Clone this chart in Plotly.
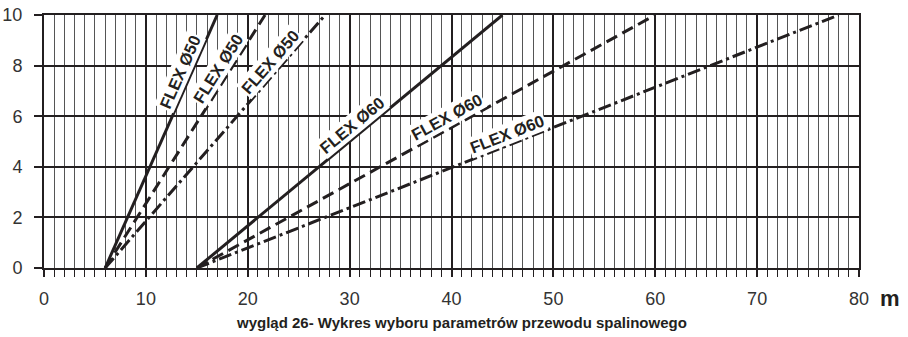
import math
import plotly.graph_objects as go

# Flue pipe selection chart: each line starts at zero height and rises to 10
pipe_labels = ["FLEX Ø50", "FLEX Ø50", "FLEX Ø50", "FLEX Ø60", "FLEX Ø60", "FLEX Ø60"]
x_at_zero = [6, 6, 6, 15, 15, 15]           # m where each line leaves the axis
x_at_ten = [17.0, 21.7, 27.6, 45.0, 60.0, 78.0]  # m where each line reaches 10
y_values = [0, 10]
label_y = [7.75, 7.9, 8.15, 5.65, 5.95, 5.3]  # height at which each label sits

x_ticks = [0, 10, 20, 30, 40, 50, 60, 70, 80]
y_ticks = [0, 2, 4, 6, 8, 10]

caption = "wygląd 26- Wykres wyboru parametrów przewodu spalinowego"
unit_label = "m"

INK = "#231f20"
FONT = "Liberation Sans, Arial"
W, H = 908, 337
M = dict(l=44, r=49, t=15, b=69)
X_RANGE = [0, 80]
Y_RANGE = [0, 10]

dash_styles = ["solid", "12px,6px", "13px,4px,3px,4px"] * 2

fig = go.Figure()
for i in range(len(pipe_labels)):
    fig.add_trace(go.Scatter(
        x=[x_at_zero[i], x_at_ten[i]], y=y_values,
        mode="lines",
        line=dict(color=INK, width=3, dash=dash_styles[i]),
        showlegend=False, hoverinfo="skip",
    ))

# pixel scale of the plotting area, used to align labels with their lines
px_x = (W - M["l"] - M["r"]) / (X_RANGE[1] - X_RANGE[0])
px_y = (H - M["t"] - M["b"]) / (Y_RANGE[1] - Y_RANGE[0])
gap = 11
for i, text in enumerate(pipe_labels):
    slope = (y_values[1] - y_values[0]) / (x_at_ten[i] - x_at_zero[i])
    ang = math.atan2(slope * px_y, px_x)
    ly = label_y[i]
    lx = x_at_zero[i] + ly / slope
    fig.add_annotation(
        x=lx, y=ly, xref="x", yref="y",
        text=f"<b>{text}</b>", showarrow=False,
        textangle=-math.degrees(ang),
        xshift=-gap / math.sin(ang),
        font=dict(family=FONT, size=16.5, color=INK),
        bgcolor="white", borderpad=1,
    )

fig.add_annotation(
    x=1, y=0, xref="paper", yref="paper", xanchor="left", yanchor="middle",
    xshift=19, yshift=-30,
    text=f"<b>{unit_label}</b>", showarrow=False,
    font=dict(family=FONT, size=22, color=INK),
)
fig.add_annotation(
    x=0.5, y=0, xref="paper", yref="paper", xanchor="center", yanchor="middle",
    xshift=10, yshift=-54,
    text=f"<b>{caption}</b>", showarrow=False,
    font=dict(family=FONT, size=15, color=INK),
)

fig.update_xaxes(
    range=X_RANGE, tickvals=x_ticks, ticktext=[str(v) for v in x_ticks],
    showgrid=True, gridcolor=INK, gridwidth=2,
    showline=True, linecolor=INK, linewidth=2, mirror=True,
    ticks="outside", ticklen=7, tickwidth=2, tickcolor=INK,
    ticklabelstandoff=6, automargin=False,
    tickfont=dict(family=FONT, size=18, color="#333333"),
    minor=dict(dtick=1, showgrid=True, gridcolor="#555555", gridwidth=1,
               ticks="outside", ticklen=7, tickwidth=1, tickcolor=INK),
    zeroline=False, fixedrange=True,
)
fig.update_yaxes(
    range=Y_RANGE, tickvals=y_ticks, ticktext=[str(v) for v in y_ticks],
    showgrid=True, gridcolor=INK, gridwidth=2,
    showline=True, linecolor=INK, linewidth=2, mirror=True,
    ticks="outside", ticklen=8, tickwidth=2, tickcolor=INK,
    ticklabelstandoff=8, automargin=False,
    tickfont=dict(family=FONT, size=18, color="#333333"),
    zeroline=False, fixedrange=True,
)
fig.update_layout(
    width=W, height=H, margin=M,
    paper_bgcolor="white", plot_bgcolor="white",
)
fig.write_html("out.html")
